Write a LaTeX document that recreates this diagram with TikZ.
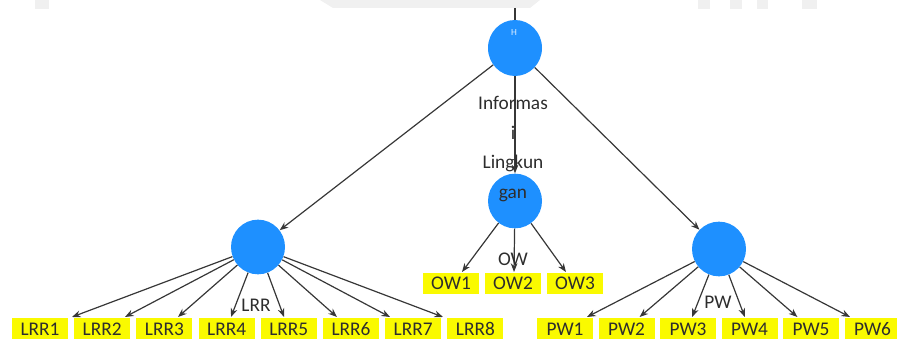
\documentclass[tikz,border=0pt]{standalone}
\usepackage{fontspec}
\newfontfamily\uifont{Carlito}
\usetikzlibrary{arrows.meta,shapes.geometric,positioning}

\definecolor{konstruk}{RGB}{30,144,255}
\definecolor{kuning}{RGB}{250,250,0}
\definecolor{garis}{RGB}{55,55,55}
\definecolor{teks}{RGB}{45,45,45}
\definecolor{latar}{RGB}{240,240,240}

\begin{document}
\begin{tikzpicture}[x=0.75pt,y=-0.75pt]
	\tikzset{
	  basic/.style     = {font=\uifont\fontsize{14.5}{17}\selectfont, text=teks, inner sep=0pt},
	  latent/.style    = {ellipse, fill=konstruk, minimum width=40.5pt, minimum height=41pt, inner sep=0pt},
	  indikator/.style = {basic, rectangle, fill=kuning, minimum width=42pt, minimum height=15.75pt},
	  jalur/.style     = {draw=garis, line width=0.9pt, -{Stealth[length=6.5pt,width=5pt]}}
	}
	\useasboundingbox (0,0) rectangle (897,341);

	% sisa bayangan di tepi atas
	\fill[latar] (35,0) rectangle (49,9);
	\fill[latar] (320,0) -- (540,0) -- (530,8) -- (333,8) -- cycle;
	\foreach \a/\b in {698/710, 730/742, 757/768, 802/817}
	  \fill[latar] (\a,0) rectangle (\b,9);

	\node[latent, minimum height=42pt] (info) at (515,48) {};
	\node[font=\uifont\fontsize{7}{7}\selectfont, text=white!85!konstruk] (ikon) at (514,33) {H};
	\node[latent] (lrr) at (258,247) {};
	\node[latent] (ow)  at (515,201) {};
	\node[latent] (pw)  at (719,249) {};

	\coordinate (atas) at (515,8);
	\draw[draw=garis, line width=0.9pt] (atas) -- (info);
	\draw[jalur] (info) -- (lrr);
	\draw[jalur] (info) -- (ow);
	\draw[jalur] (info) -- (pw);

	% indikator tiap konstruk
	\foreach \i in {1,...,8} {
	  \node[indikator] (lrr\i) at ({40+62.2*(\i-1)},329) {LRR\i};
	  \coordinate (ujungL\i) at ({72+53*(\i-1)},317);
	  \draw[jalur] (lrr) -- (ujungL\i);
	}
	\foreach \i in {1,2,3} {
	  \node[indikator] (ow\i) at ({451+62*(\i-1)},283.5) {OW\i};
	  \coordinate (ujungO\i) at ({462+52*(\i-1)},272);
	  \draw[jalur] (ow) -- (ujungO\i);
	}
	\foreach \i in {1,...,6} {
	  \node[indikator] (pw\i) at ({565+61.5*(\i-1)},329) {PW\i};
	  \coordinate (ujungP\i) at ({587+52.6*(\i-1)},317);
	  \draw[jalur] (pw) -- (ujungP\i);
	}

	\node[basic] (lrrlabel) at (256,305) {LRR};
	\node[basic] (owlabel)  at (513,259) {OW};
	\node[basic] (pwlabel)  at (718,302) {PW};
	\node[basic, align=center, font=\uifont\fontsize{14.5}{22.2}\selectfont] (infolabel) at (513,149) {Informas\\i\\Lingkun\\gan};
\end{tikzpicture}
\end{document}
